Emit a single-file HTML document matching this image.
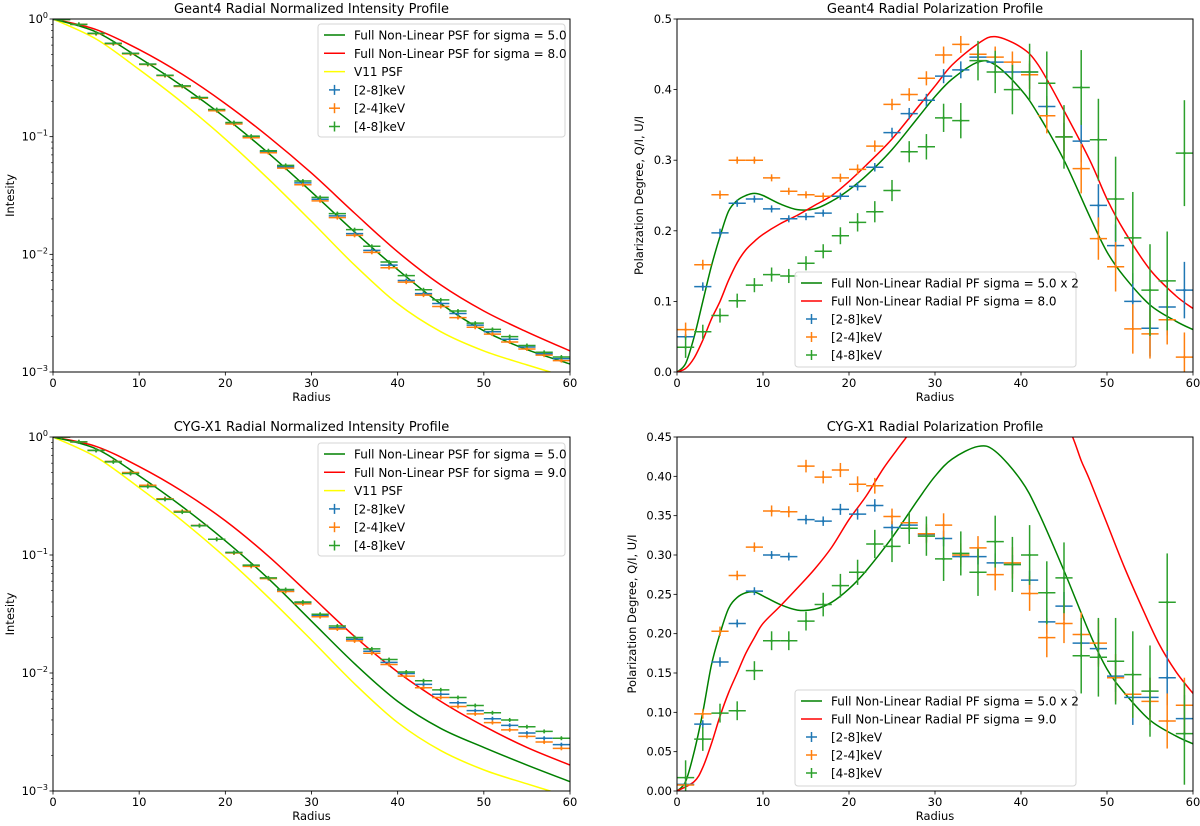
<!DOCTYPE html>
<html><head><meta charset="utf-8"><style>
html,body{margin:0;padding:0;background:#fff;}
svg{display:block;font-family:"DejaVu Sans","Liberation Sans",sans-serif;}
</style></head><body>
<svg id="fig" width="1200" height="826" viewBox="0 0 1200 826" xmlns="http://www.w3.org/2000/svg"></svg>
<script>
const binR=[1,3,5,7,9,11,13,15,17,19,21,23,25,27,29,31,33,35,37,39,41,43,45,47,49,51,53,55,57,59];
const xTicks=[0,10,20,30,40,50,60];
const logTickLabels=['0','−1','−2','−3'];
const trTicks=[0,0.1,0.2,0.3,0.4,0.5];
const brTicks=[0,0.05,0.1,0.15,0.2,0.25,0.3,0.35,0.4,0.45];
// top-left
const tlBlue=[0.99,0.90,0.755,0.62,0.51,0.414,0.332,0.269,0.214,0.168,0.130,0.100,0.0745,0.0555,0.0405,0.0294,0.0212,0.0150,0.0108,0.0081,0.0060,0.00464,0.00382,0.00314,0.0025,0.0022,0.0019,0.00163,0.00143,0.0013];
const tlOrange=[0.99,0.90,0.75,0.615,0.505,0.41,0.33,0.267,0.212,0.166,0.128,0.098,0.073,0.054,0.039,0.0285,0.0205,0.0145,0.0104,0.0077,0.0058,0.0045,0.0036,0.0029,0.0024,0.0021,0.0018,0.00157,0.00139,0.00125];
const tlGreen=[0.99,0.90,0.755,0.62,0.51,0.414,0.333,0.27,0.215,0.17,0.132,0.101,0.076,0.057,0.042,0.0305,0.0222,0.0162,0.0117,0.0086,0.0066,0.0050,0.0041,0.0033,0.0026,0.0023,0.0020,0.00168,0.00147,0.00134];
const curveR=[0,5,10,15,20,25,30,35,40,45,50,55,60];
const tlG5=[1,0.776,0.468,0.269,0.145,0.0724,0.0339,0.0155,0.00741,0.0038,0.00224,0.00155,0.00117];
const tlR8=[1,0.813,0.55,0.339,0.191,0.1,0.049,0.0224,0.0105,0.0055,0.0033,0.00219,0.00151];
const tlV11=[1,0.676,0.372,0.195,0.0955,0.0437,0.019,0.0081,0.0038,0.0022,0.00151,0.00115,0.00089];
// bottom-left
const blBlue=[1.0,0.91,0.77,0.62,0.495,0.386,0.30,0.234,0.178,0.136,0.105,0.081,0.0635,0.0496,0.039,0.0306,0.0242,0.0193,0.0153,0.0123,0.0099,0.0080,0.0066,0.0056,0.0048,0.0041,0.0036,0.0031,0.0028,0.00247];
const blOrange=[1.0,0.91,0.77,0.62,0.50,0.39,0.30,0.235,0.178,0.136,0.104,0.080,0.063,0.049,0.0385,0.030,0.0236,0.0187,0.0147,0.0118,0.0094,0.0075,0.0062,0.0052,0.0045,0.0038,0.0033,0.0029,0.0026,0.0023];
const blGreen=[1.0,0.91,0.77,0.615,0.49,0.38,0.296,0.231,0.177,0.136,0.105,0.082,0.064,0.051,0.040,0.0315,0.0250,0.0200,0.0160,0.0130,0.0102,0.0086,0.0072,0.0062,0.0053,0.0046,0.0040,0.0035,0.0032,0.0028];
const blG5=[1,0.794,0.468,0.257,0.132,0.063,0.0275,0.012,0.00575,0.00339,0.00234,0.00166,0.0012];
const blR9=[1,0.832,0.562,0.347,0.195,0.0977,0.0447,0.0204,0.0102,0.00575,0.00355,0.00234,0.00166];
const blV11=[1,0.676,0.372,0.195,0.0955,0.0437,0.019,0.0081,0.0038,0.0022,0.00151,0.00115,0.00089];
// top-right
const trBlue=[0.05,0.121,0.197,0.239,0.245,0.231,0.217,0.22,0.225,0.249,0.263,0.29,0.339,0.366,0.385,0.419,0.428,0.446,0.439,0.425,0.425,0.376,0.333,0.327,0.236,0.179,0.10,0.062,0.092,0.116];
const trBlueErr=[0.004,0.006,0.006,0.005,0.005,0.005,0.005,0.005,0.005,0.005,0.006,0.006,0.007,0.008,0.009,0.01,0.012,0.01,0.012,0.012,0.012,0.015,0.02,0.03,0.03,0.03,0.04,0.04,0.04,0.04];
const trOrange=[0.06,0.152,0.251,0.30,0.30,0.275,0.256,0.251,0.249,0.275,0.287,0.32,0.379,0.393,0.416,0.449,0.464,0.45,0.446,0.439,0.421,0.363,0.333,0.288,0.189,0.149,0.061,0.054,0.074,0.021];
const trOrangeErr=[0.01,0.007,0.006,0.005,0.005,0.005,0.005,0.005,0.005,0.006,0.007,0.008,0.008,0.009,0.01,0.012,0.012,0.012,0.015,0.015,0.02,0.025,0.03,0.035,0.03,0.035,0.035,0.035,0.035,0.035];
const trGreen=[0.035,0.057,0.08,0.101,0.123,0.138,0.136,0.154,0.171,0.193,0.212,0.227,0.257,0.312,0.319,0.36,0.356,0.441,0.425,0.40,0.425,0.409,0.333,0.403,0.329,0.245,0.19,0.116,0.129,0.31];
const trGreenErr=[0.015,0.01,0.01,0.01,0.01,0.01,0.01,0.01,0.01,0.012,0.013,0.015,0.015,0.015,0.018,0.02,0.025,0.028,0.03,0.035,0.04,0.045,0.045,0.053,0.058,0.06,0.065,0.065,0.07,0.075];
const linR=[0,1,2,3,4,5,6,7,8,9,10,12,14,16,18,20,22,25,28,30,32,35,37,40,42,45,48,50,52,55,58,60];
const trG=[0,0.012,0.05,0.10,0.15,0.192,0.228,0.243,0.25,0.253,0.25,0.238,0.23,0.231,0.242,0.258,0.278,0.315,0.36,0.39,0.415,0.439,0.435,0.40,0.365,0.30,0.22,0.17,0.135,0.095,0.072,0.06];
const trR=[0,0.005,0.02,0.045,0.075,0.10,0.13,0.155,0.173,0.185,0.195,0.21,0.222,0.236,0.25,0.27,0.293,0.33,0.375,0.405,0.435,0.465,0.475,0.46,0.435,0.37,0.30,0.245,0.20,0.145,0.108,0.09];
// bottom-right
const brBlue=[0.0085,0.085,0.164,0.213,0.254,0.30,0.298,0.345,0.343,0.358,0.352,0.363,0.335,0.338,0.326,0.321,0.298,0.298,0.29,0.288,0.268,0.215,0.235,0.188,0.181,0.146,0.119,0.119,0.144,0.092];
const brBlueErr=[0.004,0.005,0.006,0.005,0.005,0.005,0.005,0.006,0.006,0.007,0.007,0.008,0.008,0.008,0.009,0.01,0.01,0.01,0.012,0.012,0.012,0.015,0.018,0.02,0.02,0.02,0.035,0.025,0.035,0.03];
const brOrange=[0.0076,0.098,0.203,0.274,0.31,0.356,0.355,0.413,0.399,0.408,0.39,0.388,0.349,0.341,0.327,0.338,0.30,0.309,0.275,0.29,0.251,0.195,0.213,0.199,0.188,0.144,0.123,0.114,0.089,0.109];
const brOrangeErr=[0.005,0.006,0.006,0.006,0.006,0.007,0.007,0.008,0.008,0.009,0.01,0.01,0.01,0.012,0.012,0.015,0.015,0.015,0.02,0.02,0.022,0.025,0.025,0.028,0.03,0.03,0.03,0.03,0.035,0.035];
const brGreen=[0.017,0.066,0.099,0.102,0.153,0.191,0.191,0.216,0.237,0.261,0.278,0.314,0.311,0.334,0.324,0.295,0.302,0.278,0.317,0.288,0.30,0.252,0.271,0.172,0.17,0.165,0.148,0.127,0.24,0.073];
const brGreenErr=[0.022,0.015,0.012,0.012,0.012,0.012,0.012,0.012,0.015,0.015,0.016,0.018,0.02,0.02,0.025,0.028,0.028,0.03,0.033,0.035,0.038,0.04,0.045,0.048,0.05,0.055,0.055,0.058,0.062,0.065];
const brG=[0,0.012,0.05,0.10,0.16,0.20,0.232,0.246,0.252,0.253,0.248,0.237,0.23,0.231,0.24,0.257,0.28,0.322,0.37,0.40,0.422,0.438,0.432,0.395,0.355,0.28,0.20,0.155,0.125,0.09,0.07,0.06];
const brRr=[0,2,3,4,5,6,7,8,9,10,12,14,16,18,20,22,24,26,27,30,33,36,40,44,46,47,48,50,52,54,56,58,60];
const brR=[0,0.012,0.03,0.06,0.095,0.125,0.15,0.175,0.195,0.213,0.235,0.258,0.282,0.31,0.345,0.375,0.41,0.44,0.455,0.505,0.54,0.555,0.54,0.50,0.45,0.42,0.395,0.34,0.285,0.235,0.188,0.152,0.124];

const NS='http://www.w3.org/2000/svg';
const svg=document.getElementById('fig');
function mk(tag,attrs,parent){const e=document.createElementNS(NS,tag);for(const k in attrs)e.setAttribute(k,attrs[k]);(parent||svg).appendChild(e);return e;}
function txt(s,attrs,parent){const e=mk('text',attrs,parent);e.textContent=s;return e;}
const C={blue:'#1f77b4',orange:'#ff7f0e',green:'#2ca02c'};
let clipId=0;
function crPath(pts){let d='M'+pts[0][0].toFixed(2)+','+pts[0][1].toFixed(2);
 for(let i=0;i<pts.length-1;i++){const p0=pts[Math.max(0,i-1)],p1=pts[i],p2=pts[i+1],p3=pts[Math.min(pts.length-1,i+2)];
  const c1=[p1[0]+(p2[0]-p0[0])/6,p1[1]+(p2[1]-p0[1])/6],c2=[p2[0]-(p3[0]-p1[0])/6,p2[1]-(p3[1]-p1[1])/6];
  d+=' C'+c1[0].toFixed(2)+','+c1[1].toFixed(2)+' '+c2[0].toFixed(2)+','+c2[1].toFixed(2)+' '+p2[0].toFixed(2)+','+p2[1].toFixed(2);}
 return d;}
function panel(cfg){
 const g=mk('g',{});
 
 
 const {x,y,w,h}=cfg;
 const sx=v=>x+v/60*w;
 const sy=cfg.log?(v=>y+(-Math.log10(v))/3*h):(v=>y+h-v/cfg.ymax*h);
 clipId++;const cid='clip'+clipId;
 const cp=mk('clipPath',{id:cid},g);mk('rect',{x:x,y:y,width:w,height:h},cp);
 const plot=mk('g',{'clip-path':'url(#'+cid+')'},g);
 
 
 cfg.curves.forEach(c=>{
  const pts=c.r.map((r,i)=>[sx(r),sy(c.v[i])]);
  const p=mk('path',{d:crPath(pts),fill:'none',stroke:c.color,'stroke-width':1.5},plot);
  
  
 });
 cfg.series.forEach(s=>{
  const sg=mk('g',{stroke:s.color,'stroke-width':1.5},plot);
  
  
  binR.forEach((r,i)=>{
   const v=s.v[i];const cx=sx(r),cy=sy(v);
   mk('line',{x1:sx(r-1),x2:sx(r+1),y1:cy,y2:cy},sg);
   const e=s.err?s.err[i]:0;
   if(e>0){mk('line',{x1:cx,x2:cx,y1:sy(v+e),y2:sy(Math.max(v-e,-0.1))},sg);}
   else{mk('line',{x1:cx,x2:cx,y1:cy-2,y2:cy+2},sg);}
   const d=mk('circle',{cx:cx,cy:cy,r:1.3,fill:s.color,stroke:'none'},sg);
   
   
  });
 });
 const frame=mk('rect',{x:x,y:y,width:w,height:h,fill:'none',stroke:'#000','stroke-width':1},g);
 
 
 xTicks.forEach(t=>{const X=sx(t);mk('line',{x1:X,x2:X,y1:y+h,y2:y+h+3.5,stroke:'#000','stroke-width':0.8},g);
  const l=txt(String(t),{x:X,y:y+h+15,'font-size':11.5,'text-anchor':'middle',fill:'#000'},g);
  });
 if(cfg.log){
  logTickLabels.forEach((lab,i)=>{const Y=y+i/3*h;mk('line',{x1:x-3.5,x2:x,y1:Y,y2:Y,stroke:'#000','stroke-width':0.8},g);
   const t=mk('text',{x:x-5,y:Y+4,'font-size':11.5,'text-anchor':'end',fill:'#000'},g);
   
   const a=mk('tspan',{},t);a.textContent='10';const b=mk('tspan',{dy:-5,'font-size':8},t);b.textContent=lab;
   if(i<3){for(let m=2;m<=9;m++){const Ym=y+(i+1-Math.log10(m))/3*h;mk('line',{x1:x-2,x2:x,y1:Ym,y2:Ym,stroke:'#000','stroke-width':0.6},g);}}
  });
 } else {
  cfg.yticks.forEach(t=>{const Y=sy(t);mk('line',{x1:x-3.5,x2:x,y1:Y,y2:Y,stroke:'#000','stroke-width':0.8},g);
   const l=txt(t.toFixed(cfg.dec),{x:x-5,y:Y+4,'font-size':11.5,'text-anchor':'end',fill:'#000'},g);
   });
 }
 const ti=txt(cfg.title,{x:x+w/2,y:y-6,'font-size':13,'text-anchor':'middle',fill:'#000'},g);
 
 const xl=txt('Radius',{x:x+w/2,y:y+h+29,'font-size':11.5,'text-anchor':'middle',fill:'#000'},g);
 
 const yl=txt(cfg.ylabel,{x:0,y:0,'font-size':11.5,'text-anchor':'middle',fill:'#000',transform:'translate('+cfg.ylx+','+(y+h/2)+') rotate(-90)'},g);
 
 const L=cfg.legend;
 const lg=mk('g',{},g);
 
 
 mk('rect',{x:L.x,y:L.y,width:L.w,height:L.h,rx:3,fill:'#fff','fill-opacity':0.85,stroke:'#d6d6d6','stroke-width':1},lg);
 L.items.forEach((it,i)=>{const Y=L.y+11+i*L.dy;
  const eg=mk('g',{},lg);
  
  
  if(it.line){mk('line',{x1:L.x+6,x2:L.x+27,y1:Y,y2:Y,stroke:it.color,'stroke-width':1.5},eg);}
  else{mk('line',{x1:L.x+11,x2:L.x+22,y1:Y,y2:Y,stroke:it.color,'stroke-width':1.5},eg);mk('line',{x1:L.x+16.5,x2:L.x+16.5,y1:Y-5,y2:Y+5,stroke:it.color,'stroke-width':1.5},eg);}
  txt(it.label,{x:L.x+36,y:Y+4.5,'font-size':12,fill:'#000'},eg);
 });
}
const ptsLeg=[{label:'[2-8]keV',color:C.blue},{label:'[2-4]keV',color:C.orange},{label:'[4-8]keV',color:C.green}];
panel({name:'geant4-intensity-panel',x:53,y:19,w:517,h:353,log:true,title:'Geant4 Radial Normalized Intensity Profile',ylabel:'Intesity',ylx:14,
 curves:[{r:curveR,v:tlV11,color:'yellow',dname:'v11-psf-line'},{r:curveR,v:tlR8,color:'red',dname:'sigma8-line'},{r:curveR,v:tlG5,color:'green',dname:'sigma5-line'}],
 series:[{v:tlBlue,color:C.blue,dname:'series-2-8kev'},{v:tlOrange,color:C.orange,dname:'series-2-4kev'},{v:tlGreen,color:C.green,dname:'series-4-8kev'}],
 legend:{x:318,y:24,w:247,h:113,dy:18.3,items:[{line:1,label:'Full Non-Linear PSF for sigma = 5.0',color:'green'},{line:1,label:'Full Non-Linear PSF for sigma = 8.0',color:'red'},{line:1,label:'V11 PSF',color:'yellow'}].concat(ptsLeg)}});
panel({name:'cygx1-intensity-panel',x:53,y:437,w:517,h:354,log:true,title:'CYG-X1 Radial Normalized Intensity Profile',ylabel:'Intesity',ylx:14,
 curves:[{r:curveR,v:blV11,color:'yellow',dname:'v11-psf-line'},{r:curveR,v:blR9,color:'red',dname:'sigma9-line'},{r:curveR,v:blG5,color:'green',dname:'sigma5-line'}],
 series:[{v:blBlue,color:C.blue,dname:'series-2-8kev'},{v:blOrange,color:C.orange,dname:'series-2-4kev'},{v:blGreen,color:C.green,dname:'series-4-8kev'}],
 legend:{x:318,y:443,w:247,h:113,dy:18.3,items:[{line:1,label:'Full Non-Linear PSF for sigma = 5.0',color:'green'},{line:1,label:'Full Non-Linear PSF for sigma = 9.0',color:'red'},{line:1,label:'V11 PSF',color:'yellow'}].concat(ptsLeg)}});
panel({name:'geant4-polarization-panel',x:677,y:19,w:516,h:353,log:false,ymax:0.5,yticks:trTicks,dec:1,title:'Geant4 Radial Polarization Profile',ylabel:'Polarization Degree, Q/I, U/I',ylx:643,
 curves:[{r:linR,v:trG,color:'green',dname:'sigma5x2-line'},{r:linR,v:trR,color:'red',dname:'sigma8-line'}],
 series:[{v:trBlue,err:trBlueErr,color:C.blue,dname:'series-2-8kev'},{v:trOrange,err:trOrangeErr,color:C.orange,dname:'series-2-4kev'},{v:trGreen,err:trGreenErr,color:C.green,dname:'series-4-8kev'}],
 legend:{x:795,y:272,w:281,h:95,dy:18,items:[{line:1,label:'Full Non-Linear Radial PF sigma = 5.0 x 2',color:'green'},{line:1,label:'Full Non-Linear Radial PF sigma = 8.0',color:'red'}].concat(ptsLeg)}});
panel({name:'cygx1-polarization-panel',x:677,y:437,w:516,h:354,log:false,ymax:0.45,yticks:brTicks,dec:2,title:'CYG-X1 Radial Polarization Profile',ylabel:'Polarization Degree, Q/I, U/I',ylx:636,
 curves:[{r:linR,v:brG,color:'green',dname:'sigma5x2-line'},{r:brRr,v:brR,color:'red',dname:'sigma9-line'}],
 series:[{v:brBlue,err:brBlueErr,color:C.blue,dname:'series-2-8kev'},{v:brOrange,err:brOrangeErr,color:C.orange,dname:'series-2-4kev'},{v:brGreen,err:brGreenErr,color:C.green,dname:'series-4-8kev'}],
 legend:{x:795,y:690,w:281,h:96,dy:18,items:[{line:1,label:'Full Non-Linear Radial PF sigma = 5.0 x 2',color:'green'},{line:1,label:'Full Non-Linear Radial PF sigma = 9.0',color:'red'}].concat(ptsLeg)}});
</script>
</body></html>
